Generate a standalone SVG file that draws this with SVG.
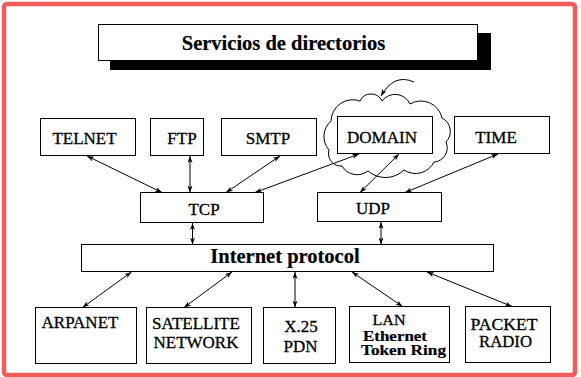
<svg xmlns="http://www.w3.org/2000/svg" width="581" height="377" viewBox="0 0 581 377">
<style>
.box{fill:#fff;stroke:#000;stroke-width:1}
.t{font-family:"Liberation Serif","Times New Roman",Times,serif;font-size:17px;fill:#000;text-anchor:middle;stroke:#000;stroke-width:0.3}
.b{font-weight:bold;stroke-width:0.2}
.c{fill:none;stroke:#000;stroke-width:1}
</style>
<defs>
<marker id="ah" viewBox="0 0 7 5" refX="7" refY="2.5" markerWidth="7" markerHeight="5" markerUnits="userSpaceOnUse" orient="auto-start-reverse">
<path d="M0,0 L7,2.5 L0,5 L2,2.5 Z" fill="#000"/>
</marker>
</defs>
<rect x="0" y="0" width="581" height="377" fill="#fff"/>
<rect x="4" y="4" width="571" height="371" rx="3" fill="none" stroke="#f45b5b" stroke-width="4.5"/>

<g id="title">
<rect x="110" y="33" width="381" height="37" fill="#000"/>
<rect class="box" x="98.5" y="24.5" width="379" height="36"/>
<text class="t b" x="283.5" y="50" style="font-size:20.5px">Servicios de directorios</text>
</g>

<g id="domain-cloud">
<path class="c" d="M329,150 A20.5,20.5 0 0 1 331,121 A21.7,21.7 0 0 1 360,101 A12.1,12.1 0 0 1 382,101 A16.3,16.3 0 0 1 410,104 A21.5,21.5 0 0 1 442,118 A15,15 0 0 1 446,142 A14.2,14.2 0 0 1 434,162 A20.6,20.6 0 0 1 404,170 A26.6,26.6 0 0 1 368,171 A17.6,17.6 0 0 1 342,166 A12.5,12.5 0 0 1 329,150 Z"/>
<path class="c" d="M414,82 Q394,73 381,96" marker-end="url(#ah)"/>
</g>

<g id="telnet"><rect class="box" x="40.5" y="118.5" width="95" height="37"/><text class="t" x="84.5" y="144">TELNET</text></g>
<g id="ftp"><rect class="box" x="150.5" y="118.5" width="53" height="37"/><text class="t" x="182" y="144">FTP</text></g>
<g id="smtp"><rect class="box" x="221.5" y="118.5" width="95" height="37"/><text class="t" x="268" y="144">SMTP</text></g>
<g id="domain"><rect class="box" x="337.5" y="116.5" width="95" height="37"/><text class="t" x="382" y="143">DOMAIN</text></g>
<g id="time"><rect class="box" x="454.5" y="116.5" width="95" height="37"/><text class="t" x="496" y="143">TIME</text></g>

<g id="tcp"><rect class="box" x="140.5" y="192.5" width="123" height="30"/><text class="t" x="204" y="215">TCP</text></g>
<g id="udp"><rect class="box" x="317.5" y="192.5" width="124" height="29"/><text class="t" x="373" y="214">UDP</text></g>

<g id="ip"><rect class="box" x="81.5" y="244.5" width="412" height="27"/><text class="t b" x="285" y="262.5" style="font-size:20.5px">Internet protocol</text></g>

<g id="arpanet"><rect class="box" x="35.5" y="307.5" width="101" height="56"/><text class="t" x="80" y="328">ARPANET</text></g>
<g id="satellite"><rect class="box" x="146.5" y="307.5" width="105" height="56"/><text class="t" x="196" y="328.5">SATELLITE</text><text class="t" x="196" y="347.5">NETWORK</text></g>
<g id="x25"><rect class="box" x="263.5" y="307.5" width="72" height="56"/><text class="t" x="301" y="332">X.25</text><text class="t" x="300.5" y="352">PDN</text></g>
<g id="lan"><rect class="box" x="349.5" y="306.5" width="100" height="56"/><text class="t" x="389" y="324.5" style="font-size:15px" textLength="33" lengthAdjust="spacingAndGlyphs">LAN</text><text class="t b" x="395" y="340.5" style="font-size:14px" textLength="64" lengthAdjust="spacingAndGlyphs">Ethernet</text><text class="t b" x="403.5" y="354.5" style="font-size:14px" textLength="85" lengthAdjust="spacingAndGlyphs">Token Ring</text></g>
<g id="packet"><rect class="box" x="465.5" y="306.5" width="85" height="56"/><text class="t" x="504" y="330" style="font-size:16px" textLength="67" lengthAdjust="spacingAndGlyphs">PACKET</text><text class="t" x="505.5" y="347" style="font-size:16px" textLength="53" lengthAdjust="spacingAndGlyphs">RADIO</text></g>

<g id="connectors" class="c">
<line class="c" x1="87" y1="156" x2="162" y2="192.5" marker-start="url(#ah)" marker-end="url(#ah)"/>
<line class="c" x1="190" y1="156" x2="190" y2="192.5" marker-start="url(#ah)" marker-end="url(#ah)"/>
<line class="c" x1="280" y1="156" x2="226" y2="192.5" marker-start="url(#ah)" marker-end="url(#ah)"/>
<line class="c" x1="359" y1="154" x2="255" y2="192.5" marker-start="url(#ah)" marker-end="url(#ah)"/>
<line class="c" x1="399" y1="154" x2="360" y2="192.5" marker-start="url(#ah)" marker-end="url(#ah)"/>
<line class="c" x1="498" y1="154" x2="405" y2="192.5" marker-start="url(#ah)" marker-end="url(#ah)"/>
<line class="c" x1="192.5" y1="223" x2="192.5" y2="244.5" marker-start="url(#ah)" marker-end="url(#ah)"/>
<line class="c" x1="381" y1="222" x2="381" y2="244.5" marker-start="url(#ah)" marker-end="url(#ah)"/>
<line class="c" x1="131.5" y1="272" x2="82.5" y2="307.5" marker-start="url(#ah)" marker-end="url(#ah)"/>
<line class="c" x1="232" y1="272" x2="184" y2="307.5" marker-start="url(#ah)" marker-end="url(#ah)"/>
<line class="c" x1="295" y1="272" x2="295" y2="307.5" marker-start="url(#ah)" marker-end="url(#ah)"/>
<line class="c" x1="352" y1="272" x2="402.5" y2="306.5" marker-start="url(#ah)" marker-end="url(#ah)"/>
<line class="c" x1="427" y1="272" x2="512" y2="306.5" marker-start="url(#ah)" marker-end="url(#ah)"/>
</g>
</svg>
